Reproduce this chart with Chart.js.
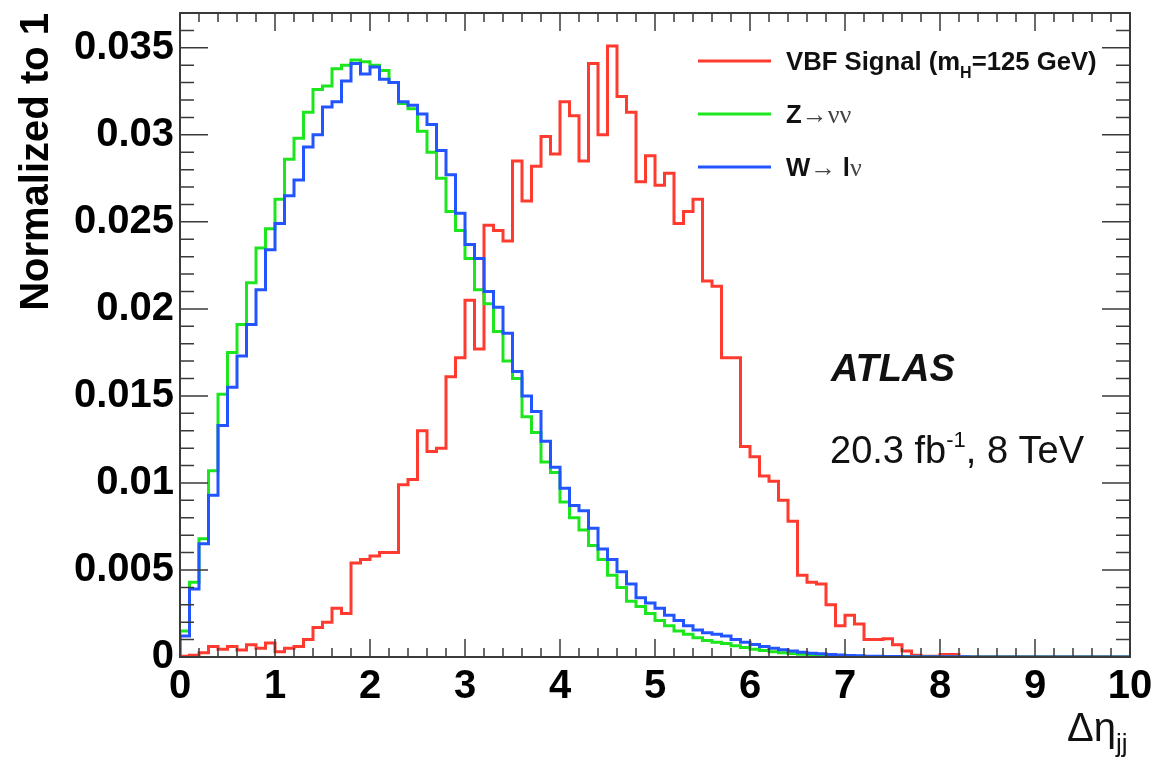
<!DOCTYPE html>
<html>
<head>
<meta charset="utf-8">
<script src="https://cdn.jsdelivr.net/npm/chart.js@4.4.1/dist/chart.umd.min.js"></script>
<style>
  body { margin: 0; background: #fff; }
  canvas { display: block; }
</style>
</head>
<body>
<canvas id="grafico" width="1156" height="757"></canvas>
<script>
// binning of the Delta eta_jj histogram
const xMin = 0;
const xMax = 10;
const binWidth = 0.1;

// normalized bin contents, one value per 0.1 bin from 0 to 10
const vbfSignal = [
  0.00005, 0.0001, 0.00025, 0.0006, 0.00045, 0.0006, 0.0004, 0.0007, 0.0005, 0.0008,
  0.0003, 0.0005, 0.0006, 0.001, 0.0017, 0.002, 0.0028, 0.0025, 0.0054, 0.0056,
  0.0058, 0.006, 0.006, 0.0099, 0.0102, 0.013, 0.0118, 0.012, 0.0161, 0.0172,
  0.0205, 0.0177, 0.0248, 0.0245, 0.0239, 0.0285, 0.0262, 0.0282, 0.0299, 0.0289,
  0.0319, 0.0311, 0.0285, 0.0341, 0.03, 0.0351, 0.0322, 0.0313, 0.0273, 0.0288,
  0.0271, 0.0278, 0.0249, 0.0256, 0.0263, 0.0216, 0.0213, 0.0172, 0.0172, 0.0121,
  0.0115, 0.0104, 0.0101, 0.009, 0.0078, 0.0047, 0.0043, 0.0042, 0.003, 0.0018,
  0.0024, 0.0019, 0.001, 0.001, 0.00105, 0.0007, 0.00035, 0.0001, 0.00005, 0.00005,
  0.00015, 0.00015, 0, 0, 0, 0, 0, 0, 0, 0,
  0, 0, 0, 0, 0, 0, 0, 0, 0, 0
];

const zNuNu = [
  0.0015, 0.0043, 0.0068, 0.0107, 0.0151, 0.0175, 0.0191, 0.0215, 0.0235, 0.0246,
  0.0263, 0.0286, 0.0298, 0.0313, 0.0326, 0.0328, 0.0338, 0.034, 0.0343, 0.0342,
  0.034, 0.0337, 0.033, 0.0318, 0.0315, 0.0302, 0.029, 0.0275, 0.0256, 0.0245,
  0.0229, 0.0211, 0.0203, 0.0187, 0.017, 0.016, 0.0138, 0.0129, 0.0112, 0.0106,
  0.0089, 0.008, 0.0073, 0.0064, 0.0056, 0.0047, 0.004, 0.0032, 0.0029, 0.0025,
  0.0021, 0.0018, 0.0015, 0.0013, 0.0011, 0.00095, 0.00085, 0.00078, 0.00065, 0.00055,
  0.00045, 0.00037, 0.0003, 0.00025, 0.0002, 0.00016, 0.00013, 0.0001, 0.00008, 0.00006,
  0.00005, 0.00004, 0.00003, 0.00002, 0.00002, 0.00001, 0.00001, 0.00001, 0.00001, 0,
  0, 0, 0, 0, 0, 0, 0, 0, 0, 0,
  0, 0, 0, 0, 0, 0, 0, 0, 0, 0
];

const wLNu = [
  0.0012, 0.0039, 0.0065, 0.0093, 0.0133, 0.0155, 0.0173, 0.0191, 0.0211, 0.0234,
  0.0249, 0.0265, 0.0274, 0.0293, 0.03, 0.0316, 0.0319, 0.0331, 0.0341, 0.0335,
  0.0339, 0.0332, 0.033, 0.0319, 0.0317, 0.0312, 0.0306, 0.0291, 0.0277, 0.0255,
  0.0237, 0.0229, 0.021, 0.0201, 0.0186, 0.0164, 0.015, 0.0141, 0.0124, 0.0109,
  0.0097, 0.0087, 0.0084, 0.0074, 0.0062, 0.0056, 0.0049, 0.0042, 0.0034, 0.0031,
  0.0028, 0.0024, 0.0021, 0.0018, 0.00155, 0.0014, 0.0013, 0.0012, 0.001, 0.00085,
  0.00072, 0.0006, 0.0005, 0.00042, 0.00035, 0.00028, 0.00022, 0.00018, 0.00014, 0.00011,
  0.00009, 0.00007, 0.00005, 0.00004, 0.00003, 0.00003, 0.00002, 0.00002, 0.00001, 0.00001,
  0.00001, 0.00001, 0.00001, 0, 0, 0, 0, 0, 0, 0,
  0, 0, 0, 0, 0, 0, 0, 0, 0, 0
];

const yTickStep = 0.005;
const yMax = 0.037;

const sans = "'Liberation Sans', Arial, Helvetica, sans-serif";
const serif = "'Liberation Serif', 'DejaVu Serif', serif";
const corRed = '#ff3b2f';
const corGreen = '#1ee61e';
const corBlue = '#2255ff';

// histogram outline: rise from 0 at the left edge, then one step per bin
function histPoints(values) {
  const pts = [{ x: xMin, y: 0 }];
  values.forEach((v, i) => pts.push({ x: xMin + i * binWidth, y: v }));
  pts.push({ x: xMax, y: values[values.length - 1] });
  return pts;
}

function drawParts(ctx, x, y, parts) {
  let cx = x;
  parts.forEach(p => {
    ctx.font = p.font;
    ctx.fillStyle = p.color || '#111';
    ctx.fillText(p.t, cx, y + (p.dy || 0));
    cx += ctx.measureText(p.t).width + (p.gap || 0);
  });
}

const rootFrame = {
  id: 'rootFrame',
  afterDraw(chart) {
    const { ctx, chartArea: a, scales } = chart;
    const sx = scales.x, sy = scales.y;
    ctx.save();
    ctx.strokeStyle = '#3a3a3a';
    ctx.lineWidth = 2;
    ctx.strokeRect(a.left, a.top, a.right - a.left, a.bottom - a.top);

    ctx.lineWidth = 1.5;
    ctx.beginPath();
    for (let i = 0; i <= 50; i++) {
      const px = sx.getPixelForValue(i * 0.2);
      const len = i % 5 === 0 ? 18 : 9;
      ctx.moveTo(px, a.bottom); ctx.lineTo(px, a.bottom - len);
      ctx.moveTo(px, a.top); ctx.lineTo(px, a.top + len);
    }
    for (let i = 0; i <= 37; i++) {
      const py = sy.getPixelForValue(i * 0.001);
      const len = i % 5 === 0 ? 28 : 14;
      ctx.moveTo(a.left, py); ctx.lineTo(a.left + len, py);
      ctx.moveTo(a.right, py); ctx.lineTo(a.right - len, py);
    }
    ctx.stroke();

    // legend
    const leg = [
      { c: corRed, y: 61 },
      { c: corGreen, y: 114 },
      { c: corBlue, y: 167 }
    ];
    ctx.lineWidth = 3;
    leg.forEach(l => {
      ctx.strokeStyle = l.c;
      ctx.beginPath();
      ctx.moveTo(698, l.y); ctx.lineTo(771, l.y);
      ctx.stroke();
    });
    ctx.textBaseline = 'alphabetic';
    ctx.textAlign = 'left';
    const fb = 'bold 25.7px ' + sans;
    drawParts(ctx, 786, 70, [
      { t: 'VBF Signal (m', font: fb },
      { t: 'H', font: 'bold 16px ' + sans, dy: 8 },
      { t: '=125 GeV)', font: fb }
    ]);
    drawParts(ctx, 786, 123, [
      { t: 'Z', font: fb },
      { t: '\u2192\u03bd\u03bd', font: '26px ' + serif, color: '#444' }
    ]);
    drawParts(ctx, 786, 176, [
      { t: 'W', font: fb },
      { t: '\u2192 ', font: '26px ' + serif, color: '#444' },
      { t: 'l', font: fb },
      { t: '\u03bd', font: '26px ' + serif, color: '#444' }
    ]);

    // ATLAS label
    ctx.font = 'italic bold 38px ' + sans;
    ctx.fillStyle = '#111';
    ctx.fillText('ATLAS', 831, 381);
    drawParts(ctx, 830, 463, [
      { t: '20.3 fb', font: '38px ' + sans },
      { t: '-1', font: '22px ' + sans, dy: -16 },
      { t: ', 8 TeV', font: '38px ' + sans }
    ]);

    // x axis title
    drawParts(ctx, 1067, 741, [
      { t: '\u0394\u03b7', font: '40px ' + sans },
      { t: 'jj', font: '26px ' + sans, dy: 11 }
    ]);
    ctx.restore();
  }
};

const tickFont = { family: sans, size: 40, weight: 'bold' };

new Chart(document.getElementById('grafico'), {
  type: 'line',
  data: {
    datasets: [
      { label: 'VBF Signal (mH=125 GeV)', data: histPoints(vbfSignal), borderColor: corRed, order: 2 },
      { label: 'Z\u2192\u03bd\u03bd', data: histPoints(zNuNu), borderColor: corGreen, order: 1 },
      { label: 'W\u2192 l\u03bd', data: histPoints(wLNu), borderColor: corBlue, order: 0 }
    ]
  },
  options: {
    responsive: false,
    animation: false,
    elements: {
      // 'before' keeps each bin's level until the next bin edge
      line: { stepped: 'before', borderWidth: 3, fill: false, tension: 0 },
      point: { radius: 0, hoverRadius: 0 }
    },
    layout: { padding: { left: 0, top: 13, right: 26, bottom: 0 } },
    plugins: { legend: { display: false }, tooltip: { enabled: false } },
    scales: {
      x: {
        type: 'linear',
        min: xMin,
        max: xMax,
        grid: { display: false, drawTicks: false },
        border: { display: false },
        ticks: { stepSize: 1, font: tickFont, color: '#000', padding: 6, maxRotation: 0, autoSkip: false },
        afterFit: s => { s.height = 100; s.paddingLeft = 0; s.paddingRight = 0; }
      },
      y: {
        type: 'linear',
        min: 0,
        max: yMax,
        grid: { display: false, drawTicks: false },
        border: { display: false },
        ticks: {
          stepSize: yTickStep,
          includeBounds: false,
          font: tickFont,
          color: '#000',
          padding: 6,
          callback: v => String(+v.toFixed(3))
        },
        title: {
          display: true,
          text: 'Normalized to 1',
          align: 'end',
          color: '#000',
          font: tickFont,
          padding: { top: 13, bottom: 0 }
        },
        afterFit: s => { s.width = 180; s.paddingTop = 0; s.paddingBottom = 0; }
      }
    }
  },
  plugins: [rootFrame]
});
</script>
</body>
</html>
